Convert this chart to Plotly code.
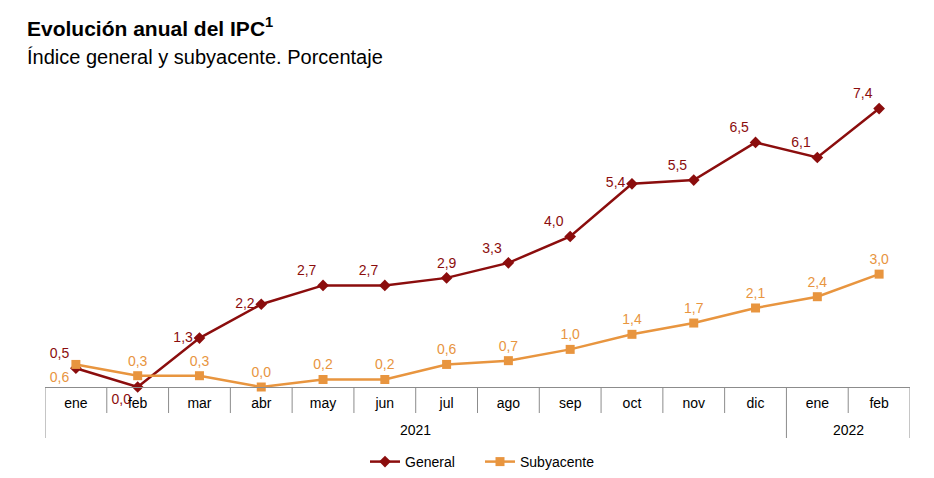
import plotly.graph_objects as go

months = ["ene", "feb", "mar", "abr", "may", "jun", "jul", "ago", "sep", "oct", "nov", "dic", "ene", "feb"]
years = ["2021", "2022"]
year_counts = [12, 2]
general = [0.5, 0.0, 1.3, 2.2, 2.7, 2.7, 2.9, 3.3, 4.0, 5.4, 5.5, 6.5, 6.1, 7.4]
subyacente = [0.6, 0.3, 0.3, 0.0, 0.2, 0.2, 0.6, 0.7, 1.0, 1.4, 1.7, 2.1, 2.4, 3.0]

RED = "#8B0D0D"
ORANGE = "#E8953F"
GRID = "#8C8C8C"
FONT = "Liberation Sans, Arial, sans-serif"

W, H = 934, 478
ML, MR, MT, MB = 37, 32, 78, 99
PH = H - MT - MB
PW = W - ML - MR
AX = H - MB  # axis line y in figure px

x = list(range(len(months)))

def fmt(v):
    return f"{v:.1f}".replace(".", ",")

gen_pos = ["top left", "bottom left", "middle left", "middle left", "top left", "top left",
           "top center", "top left", "top left", "middle left", "top left", "top left",
           "top left", "top left"]
sub_pos = ["bottom left"] + ["top center"] * (len(subyacente) - 1)

fig = go.Figure()
fig.add_trace(go.Scatter(
    x=x, y=general, name="General", mode="lines+markers+text",
    line=dict(color=RED, width=2.5),
    marker=dict(symbol="diamond", size=9, color=RED),
    text=[fmt(v) for v in general], textposition=gen_pos,
    textfont=dict(color=RED, size=14, family=FONT),
    cliponaxis=False,
))
fig.add_trace(go.Scatter(
    x=x, y=subyacente, name="Subyacente", mode="lines+markers+text",
    line=dict(color=ORANGE, width=2.5),
    marker=dict(symbol="square", size=9, color=ORANGE),
    text=[fmt(v) for v in subyacente], textposition=sub_pos,
    textfont=dict(color=ORANGE, size=14, family=FONT),
    cliponaxis=False,
))

shapes = []
short = -26 / PH
long_ = -51 / PH
bounds = [-0.5]
acc = -0.5
for c in year_counts:
    acc += c
    bounds.append(acc)
for i in range(len(months) + 1):
    xb = i - 0.5
    y1 = long_ if xb in bounds else short
    shapes.append(dict(type="line", xref="x", yref="paper", x0=xb, x1=xb, y0=0, y1=y1,
                       line=dict(color=GRID, width=1)))

annotations = []
start = -0.5
for yr, c in zip(years, year_counts):
    annotations.append(dict(x=start + c / 2, y=-43 / PH, xref="x", yref="paper", text=yr,
                            showarrow=False, font=dict(size=14, color="#000", family=FONT),
                            xanchor="center", yanchor="middle"))
    start += c

TX = (17 - ML) / PW
annotations.append(dict(x=TX, y=(AX - 19) / PH, xref="paper", yref="paper",
                        text="<b>Evolución anual del IPC<sup>1</sup></b>", showarrow=False,
                        xanchor="left", yanchor="middle",
                        font=dict(size=21, color="#000", family=FONT)))
annotations.append(dict(x=TX, y=(AX - 49) / PH, xref="paper", yref="paper",
                        text="Índice general y subyacente. Porcentaje", showarrow=False,
                        xanchor="left", yanchor="middle",
                        font=dict(size=20, color="#000", family=FONT)))

fig.update_layout(
    width=W, height=H,
    margin=dict(l=ML, r=MR, t=MT, b=MB),
    paper_bgcolor="white", plot_bgcolor="white",
    font=dict(family=FONT, size=14, color="#000"),
    xaxis=dict(range=[-0.5, len(months) - 0.5], tickvals=x, ticktext=months,
               showgrid=False, zeroline=False, showline=True, linecolor=GRID, linewidth=1,
               ticks="", ticklabelstandoff=3, tickfont=dict(size=14, color="#000"), fixedrange=True),
    yaxis=dict(range=[0, 8], visible=False, fixedrange=True),
    showlegend=True,
    legend=dict(orientation="h", xref="paper", x=(472 - ML) / PW, xanchor="center",
                yref="container", y=1 - 454 / H, yanchor="middle", font=dict(size=14),
                entrywidth=70, entrywidthmode="pixels"),
    shapes=shapes, annotations=annotations,
)

fig.write_html("out.html")
